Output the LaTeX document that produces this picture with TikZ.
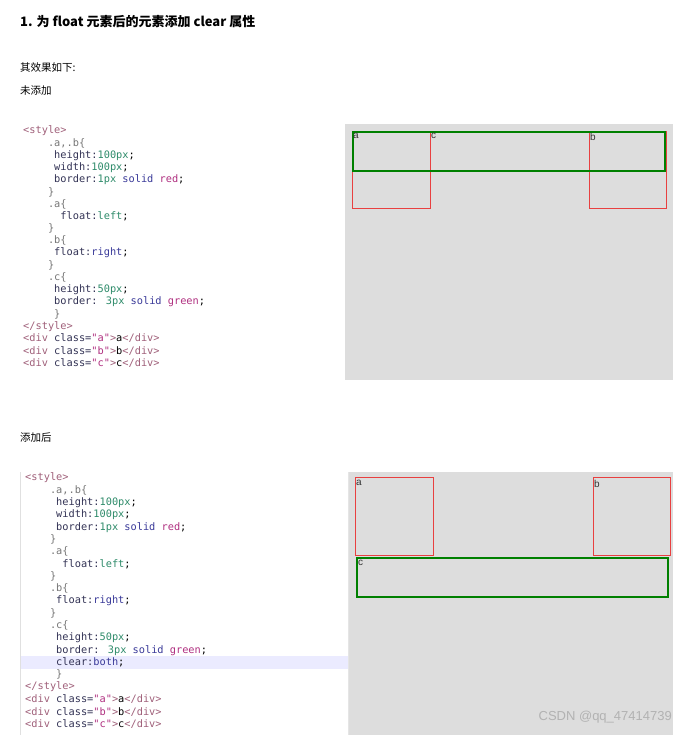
\documentclass[tikz,border=0pt]{standalone}
\usepackage{fontspec}
\setmainfont{Liberation Sans}
\newfontfamily\cjk{Noto Sans CJK SC}
\newfontfamily\cmono{DejaVu Sans Mono}
\definecolor{tagc}{HTML}{A0607A}
\definecolor{selc}{HTML}{777777}
\definecolor{prop}{HTML}{333355}
\definecolor{numc}{HTML}{2E8B6A}
\definecolor{kwc}{HTML}{3A3A99}
\definecolor{strc}{HTML}{B03080}
\definecolor{panel}{HTML}{DDDDDD}
\definecolor{boxred}{HTML}{E84040}
\newcommand{\T}[1]{\textcolor{tagc}{#1}}
\newcommand{\Sl}[1]{\textcolor{selc}{#1}}
\newcommand{\Pp}[1]{\textcolor{prop}{#1}}
\newcommand{\Nm}[1]{\textcolor{numc}{#1}}
\newcommand{\Kw}[1]{\textcolor{kwc}{#1}}
\newcommand{\St}[1]{\textcolor{strc}{#1}}
\begin{document}
\begin{tikzpicture}[x=1pt,y=-1pt,
  codeline/.style={anchor=west,inner sep=0,font=\cmono\fontsize{10.3}{10}\selectfont},
  txt/.style={anchor=west,inner sep=0,font=\cjk\fontsize{10.5}{12}\selectfont},
  redbox/.style={draw=boxred,line width=0.8pt},
  greenbox/.style={draw=green!50!black,line width=2pt},
  lbl/.style={anchor=north west,inner sep=0,font=\fontsize{10}{11}\selectfont,text=black!80}]
\useasboundingbox[fill=white] (0,0) rectangle (687,738);
\node[txt,font=\cjk\bfseries\fontsize{13}{15}\selectfont] (title) at (20,22) {1. 为 float 元素后的元素添加 clear 属性};
\node[txt] (t1) at (20,68) {其效果如下:};
\node[txt] (t2) at (20,91) {未添加};
\node[txt] (t3) at (20,438) {添加后};
% code block 1
\foreach \i/\s in {0/{\T{<style>}},
 1/{\Sl{\ \ \ \ .a,.b\{}},
 2/{\ \ \ \ \ \Pp{height:}\Nm{100px};},
 3/{\ \ \ \ \ \Pp{width:}\Nm{100px};},
 4/{\ \ \ \ \ \Pp{border:}\Nm{1px} \Kw{solid} \St{red};},
 5/{\Sl{\ \ \ \ \}}},
 6/{\Sl{\ \ \ \ .a\{}},
 7/{\ \ \ \ \ \ \Pp{float:}\Nm{left};},
 8/{\Sl{\ \ \ \ \}}},
 9/{\Sl{\ \ \ \ .b\{}},
 10/{\ \ \ \ \ \Pp{float:}\Kw{right};},
 11/{\Sl{\ \ \ \ \}}},
 12/{\Sl{\ \ \ \ .c\{}},
 13/{\ \ \ \ \ \Pp{height:}\Nm{50px};},
 14/{\ \ \ \ \ \Pp{border:} \Nm{3px} \Kw{solid} \St{green};},
 15/{\Sl{\ \ \ \ \ \}}},
 16/{\T{</style>}},
 17/{\T{<div} \Pp{class=}\St{"a"}\T{>}a\T{</div>}},
 18/{\T{<div} \Pp{class=}\St{"b"}\T{>}b\T{</div>}},
 19/{\T{<div} \Pp{class=}\St{"c"}\T{>}c\T{</div>}}}
 \node[codeline] (ca\i) at (23,131+12.2*\i) {\s};
% panel 1
\fill[panel] (345,124) rectangle (673,380);
\draw[redbox] (352,131) rectangle (430,208);
\draw[redbox] (589,131) rectangle (666,208);
\draw[greenbox] (353,132) rectangle (665,171);
\node[lbl] (la1) at (353,133) {a};
\node[lbl] (lc1) at (431,133) {c};
\node[lbl] (lb1) at (590,133) {b};
% code block 2
\fill[blue!8] (21,656) rectangle (348,669);
\draw[black!12] (20.5,472) -- (20.5,735);
\draw[black!10,line width=1pt] (348,472) -- (348,735);
\foreach \i/\s in {0/{\T{<style>}},
 1/{\Sl{\ \ \ \ .a,.b\{}},
 2/{\ \ \ \ \ \Pp{height:}\Nm{100px};},
 3/{\ \ \ \ \ \Pp{width:}\Nm{100px};},
 4/{\ \ \ \ \ \Pp{border:}\Nm{1px} \Kw{solid} \St{red};},
 5/{\Sl{\ \ \ \ \}}},
 6/{\Sl{\ \ \ \ .a\{}},
 7/{\ \ \ \ \ \ \Pp{float:}\Nm{left};},
 8/{\Sl{\ \ \ \ \}}},
 9/{\Sl{\ \ \ \ .b\{}},
 10/{\ \ \ \ \ \Pp{float:}\Kw{right};},
 11/{\Sl{\ \ \ \ \}}},
 12/{\Sl{\ \ \ \ .c\{}},
 13/{\ \ \ \ \ \Pp{height:}\Nm{50px};},
 14/{\ \ \ \ \ \Pp{border:} \Nm{3px} \Kw{solid} \St{green};},
 15/{\ \ \ \ \ \Pp{clear:}\Kw{both};},
 16/{\Sl{\ \ \ \ \ \}}},
 17/{\T{</style>}},
 18/{\T{<div} \Pp{class=}\St{"a"}\T{>}a\T{</div>}},
 19/{\T{<div} \Pp{class=}\St{"b"}\T{>}b\T{</div>}},
 20/{\T{<div} \Pp{class=}\St{"c"}\T{>}c\T{</div>}}}
 \node[codeline] (cb\i) at (25,478+12.3*\i) {\s};
% panel 2
\fill[panel] (349,472) rectangle (673,735);
\draw[redbox] (355,477) rectangle (433,555);
\draw[redbox] (593,477) rectangle (670,555);
\draw[greenbox] (357,558) rectangle (668,597);
\node[lbl] (la2) at (356,480) {a};
\node[lbl] (lb2) at (594,480) {b};
\node[lbl] (lc2) at (358,560) {c};
\node[anchor=east,inner sep=0,font=\fontsize{13}{15}\selectfont,text=black!30] (wm) at (672,717) {CSDN @qq\_47414739};
\end{tikzpicture}
\end{document}
